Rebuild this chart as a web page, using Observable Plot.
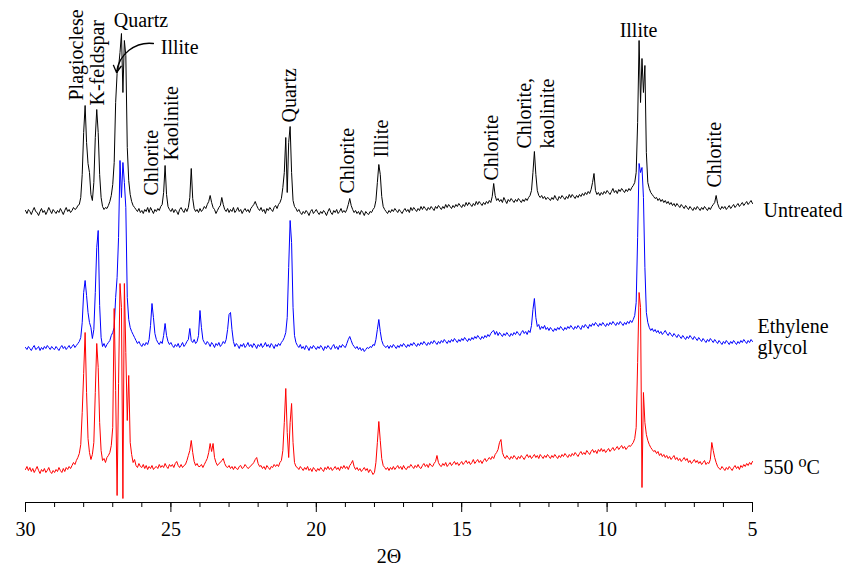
<!DOCTYPE html>
<html>
<head>
<meta charset="utf-8">
<script src="https://cdn.jsdelivr.net/npm/d3@7"></script>
<script src="https://cdn.jsdelivr.net/npm/@observablehq/plot@0.6"></script>
<style>
  html, body { margin: 0; padding: 0; background: #fff; }
  #chart { width: 856px; height: 578px; }
  #chart svg, #chart svg text { font-family: 'Liberation Serif', 'DejaVu Serif', serif !important; }
</style>
</head>
<body>
<div id="chart"></div>
<script>
const twoThetaStart = 30, twoThetaStep = 0.05;

const untreated = [
  32,29,33,31,28,32,35,31,30,27,31,34,30,32,28,31,35,32,29,33,
  31,29,32,30,34,31,28,32,35,31,33,30,32,35,33,34,37,38,45,68,
  110,137,100,79,70,48,42,60,105,133,110,68,45,36,33,35,34,37,41,47,
  58,80,140,169,175,190,209,150,202,187,95,62,48,41,37,35,33,31,34,30,
  32,29,33,31,35,30,35,32,29,33,31,34,32,36,38,50,77,48,36,33,
  31,34,30,33,31,28,33,35,32,30,34,31,35,45,74,44,34,31,33,30,
  34,31,33,36,34,38,41,47,40,35,33,29,32,35,37,45,38,33,31,34,
  30,33,31,35,30,32,35,31,33,29,32,34,31,33,30,34,36,38,41,37,
  34,32,35,31,33,29,34,32,35,33,31,35,37,34,38,40,44,55,70,105,
  50,100,116,70,42,36,34,31,33,30,28,31,29,32,30,27,31,33,29,31,
  33,30,28,31,29,32,30,27,31,34,30,28,32,30,33,29,31,34,30,32,
  30,33,38,44,37,33,30,32,29,31,28,32,30,27,31,29,28,31,30,33,
  35,42,60,78,68,46,36,33,31,29,32,30,33,31,34,32,30,33,31,29,
  32,34,31,33,30,35,32,35,33,31,34,32,36,33,36,34,32,35,33,36,
  34,32,36,34,37,35,33,36,34,38,35,38,36,34,37,35,38,36,39,37,
  35,38,36,40,37,40,38,36,39,37,41,38,41,39,37,40,38,41,39,42,
  40,46,59,47,42,44,41,43,40,45,42,39,43,41,44,42,40,43,41,44,
  42,40,43,41,44,42,45,47,52,70,91,68,52,47,45,47,44,46,43,45,
  44,42,45,43,47,44,42,46,44,47,45,43,46,44,48,45,48,46,44,47,
  45,48,46,49,47,50,48,51,49,53,60,69,52,48,50,47,50,48,51,49,
  52,50,48,51,54,50,52,49,53,51,54,52,50,53,51,54,52,55,57,60,
  70,120,202,140,184,150,177,90,60,54,50,48,46,44,45,42,44,41,43,40,
  42,39,41,38,40,37,39,36,39,37,35,38,36,34,37,35,33,36,34,32,
  35,33,36,34,32,35,33,36,34,32,35,33,36,38,40,47,39,35,33,36,
  34,36,33,35,37,34,36,38,35,37,39,36,38,40,37,39,41,38,40,42,
  39];

const ethyleneGlycol = [
  30,28,31,29,27,30,32,28,29,31,27,30,28,31,29,32,30,28,31,29,
  28,31,29,27,30,32,29,31,28,30,32,29,31,33,30,32,34,36,40,55,
  85,97,82,65,55,50,39,48,85,130,147,72,40,31,34,30,33,35,37,42,
  45,50,80,100,140,217,180,215,195,170,80,58,50,46,43,40,37,34,36,33,
  31,34,32,35,33,38,52,74,60,44,38,35,33,36,34,42,54,42,36,33,
  35,32,30,33,31,34,30,32,35,31,33,36,38,49,37,35,38,34,36,42,
  67,50,38,35,33,36,34,31,35,33,30,34,32,35,31,33,36,34,38,48,
  63,65,48,36,31,34,32,29,33,31,34,30,32,35,31,33,30,34,32,29,
  33,31,34,30,32,35,31,33,30,34,32,29,33,31,34,32,35,37,40,45,
  60,110,157,135,70,42,35,32,30,33,29,31,28,32,30,27,31,29,32,30,
  28,31,29,32,30,27,31,29,32,30,28,31,33,29,31,28,32,30,33,31,
  30,34,38,41,37,33,31,29,31,28,30,27,29,26,28,30,29,31,30,33,
  32,38,48,58,46,37,33,31,30,32,29,32,30,33,31,29,32,30,33,31,
  34,32,30,33,31,34,32,35,33,31,34,32,35,33,36,34,32,35,33,36,
  34,37,35,33,36,34,37,35,38,36,34,37,35,38,36,39,37,35,38,36,
  39,37,40,38,36,39,37,40,38,41,39,42,40,38,41,39,42,40,43,41,
  44,46,47,43,46,42,45,43,41,44,42,45,43,41,44,42,45,43,46,44,
  42,45,47,44,46,43,47,45,52,68,79,60,51,53,48,51,49,52,48,50,
  47,50,48,46,49,47,50,48,51,49,47,50,48,51,49,52,50,48,51,49,
  52,50,48,52,50,53,51,49,53,51,54,52,55,53,51,54,52,55,53,51,
  54,52,55,53,56,54,52,55,53,56,54,52,55,53,56,54,57,55,58,62,
  75,140,214,205,210,180,110,65,55,50,47,49,46,48,45,47,44,46,43,45,
  47,44,42,45,43,41,44,42,40,43,41,39,42,40,38,41,39,42,40,38,
  41,39,37,40,38,36,39,37,35,38,36,39,37,35,38,36,34,37,35,33,
  36,34,37,35,33,36,34,37,35,33,36,34,37,35,38,36,34,37,35,38,
  36];

const heated550 = [
  33,36,32,35,31,34,30,33,36,32,29,33,31,34,30,32,35,31,29,32,
  30,33,31,35,32,30,34,31,35,33,36,34,37,40,38,42,45,49,58,90,
  129,170,110,64,50,43,48,60,110,159,135,80,52,42,44,40,45,47,50,57,
  75,194,112,7,119,219,195,4,219,150,82,127,60,48,40,43,37,35,39,36,
  35,38,34,37,33,36,34,37,33,35,36,34,38,35,37,35,39,36,34,38,
  36,38,35,39,41,37,35,38,35,37,38,42,47,52,62,50,41,37,39,36,
  36,38,35,38,41,44,50,59,51,59,45,40,37,39,40,42,44,39,36,35,
  37,34,36,33,36,34,33,36,37,34,35,38,36,34,35,37,38,40,43,45,
  39,36,37,34,36,33,37,35,33,36,35,38,36,38,36,40,42,52,80,114,
  70,45,80,99,60,40,36,35,33,36,34,32,35,33,36,32,34,31,35,33,
  31,34,32,35,33,31,35,33,36,33,35,32,34,36,33,35,32,36,34,37,
  34,36,33,37,39,42,36,33,35,32,34,31,33,35,32,34,30,33,31,28,
  30,40,60,81,62,44,37,35,33,35,32,35,33,36,33,35,37,34,36,33,
  37,34,33,36,35,38,36,34,37,35,38,35,34,37,39,36,38,35,39,37,
  36,39,41,47,40,37,36,39,37,40,36,38,40,37,39,41,38,40,37,39,
  41,38,40,42,39,41,38,40,43,39,41,43,40,42,39,42,44,41,43,45,
  43,46,44,48,50,53,60,63,50,46,44,47,45,43,46,44,47,45,43,46,
  44,47,45,43,46,48,45,47,44,46,48,45,47,44,48,46,44,47,45,48,
  46,44,47,45,48,46,44,47,45,48,46,49,47,45,48,46,49,47,50,48,
  46,49,51,48,50,48,52,50,48,51,53,50,52,49,53,51,54,51,53,50,
  52,54,51,53,55,52,54,56,53,55,57,54,56,53,55,57,56,58,60,64,
  75,140,210,195,15,110,80,68,62,58,55,53,51,52,49,51,47,49,46,48,
  45,47,44,46,43,45,47,43,45,42,44,41,43,45,42,44,40,42,39,41,
  43,40,42,39,41,38,40,42,38,40,39,43,60,52,45,40,36,34,33,36,
  34,32,35,33,36,34,32,35,37,34,36,33,37,35,38,36,39,37,40,38,
  41];

// Series names, vertical stacking offsets (a.u.) and colours
const seriesNames = ["Untreated", "Ethylene\nglycol", "550 ⁰C"];
const seriesOffsets = [260, 125, 0];
const seriesColors = ["#000000", "#0000ff", "#ff0000"];
const seriesLabelX = [4.62, 4.83, 4.62];
const seriesLabelY = [292, 166, 35];

// Peak annotations (rotated), anchored at their lower end
const peakLabels = ["Plagioclese", "K-feldspar", "Chlorite", "Kaolinite", "Quartz", "Chlorite", "Illite", "Chlorite", "Chlorite,\nkaolinite", "Chlorite"];
const peakLabelX = [28.26, 27.56, 25.70, 25.01, 20.96, 18.96, 17.79, 14.01, 12.46, 6.34];
const peakLabelY = [402, 397, 307, 342, 380, 309, 345, 322, 354, 315];

// Horizontal annotations
const flatLabels = ["Quartz", "Illite", "Illite"];
const flatLabelX = [26.03, 24.70, 8.92];
const flatLabelY = [482, 455, 472];

// Axis ticks
const majorTicks = [30, 25, 20, 15, 10, 5];
const minorTicks = [30,29,28,27,26,25,24,23,22,21,20,19,18,17,16,15,14,13,12,11,10,9,8,7,6,5];

// ---- Build tidy rows ----
const seriesData = [untreated, ethyleneGlycol, heated550];
const rows = [];
seriesData.forEach((arr, s) => {
  arr.forEach((v, i) => {
    const t = +(twoThetaStart - i * twoThetaStep).toFixed(2);
    if (t >= 5 - 1e-9) rows.push({series: s, theta: t, value: v + seriesOffsets[s]});
  });
});
const seriesLabelRows = seriesNames.map((n, i) => ({text: n, x: seriesLabelX[i], y: seriesLabelY[i]}));
const peakRows = peakLabels.map((t, i) => ({text: t, x: peakLabelX[i], y: peakLabelY[i]}));
const flatRows = flatLabels.map((t, i) => ({text: t, x: flatLabelX[i], y: flatLabelY[i]}));

const FONT = "Liberation Serif";

const lines = [0, 1, 2].map(i =>
  Plot.line(rows.filter(d => d.series === i), {
    x: "theta", y: "value", stroke: seriesColors[i], strokeWidth: 1, curve: "linear"
  })
);

const chart = Plot.plot({
  width: 856,
  height: 578,
  marginLeft: 25,
  marginRight: 104,
  marginTop: 2,
  marginBottom: 76,
  style: {fontFamily: FONT, fontSize: "20px", background: "#fff", color: "#000"},
  x: {domain: [30, 5], axis: null},
  y: {domain: [0, 500], axis: null},
  marks: [
    ...lines,
    Plot.ruleY([0], {stroke: "#000", strokeWidth: 1}),
    Plot.axisX({ticks: minorTicks, tickSize: 5, text: null, stroke: "#000", label: null}),
    Plot.axisX({ticks: majorTicks, tickSize: 10, tickPadding: 9, tickFormat: d => String(d), fontSize: 20, fontFamily: FONT, fill: "#000", stroke: "#000", label: null}),
    Plot.text(["2Θ"], {frameAnchor: "bottom", dy: 60, fontSize: 20, fontFamily: FONT, fill: "#000"}),
    Plot.text(peakRows, {x: "x", y: "y", text: "text", rotate: -90, textAnchor: "start", lineAnchor: "middle", lineHeight: 1.15, fontSize: 20, fontFamily: FONT, fill: "#000"}),
    Plot.text(flatRows, {x: "x", y: "y", text: "text", textAnchor: "middle", lineAnchor: "middle", fontSize: 20, fontFamily: FONT, fill: "#000"}),
    Plot.text(seriesLabelRows, {x: "x", y: "y", text: "text", textAnchor: "start", lineAnchor: "middle", lineHeight: 1.05, fontSize: 20, fontFamily: FONT, fill: "#000"}),
    Plot.arrow([{x1: 25.60, y1: 459, x2: 26.87, y2: 430}], {x1: "x1", y1: "y1", x2: "x2", y2: "y2", bend: -45, headLength: 9, stroke: "#000", strokeWidth: 1.3})
  ]
});
document.getElementById("chart").appendChild(chart);
</script>
</body>
</html>
